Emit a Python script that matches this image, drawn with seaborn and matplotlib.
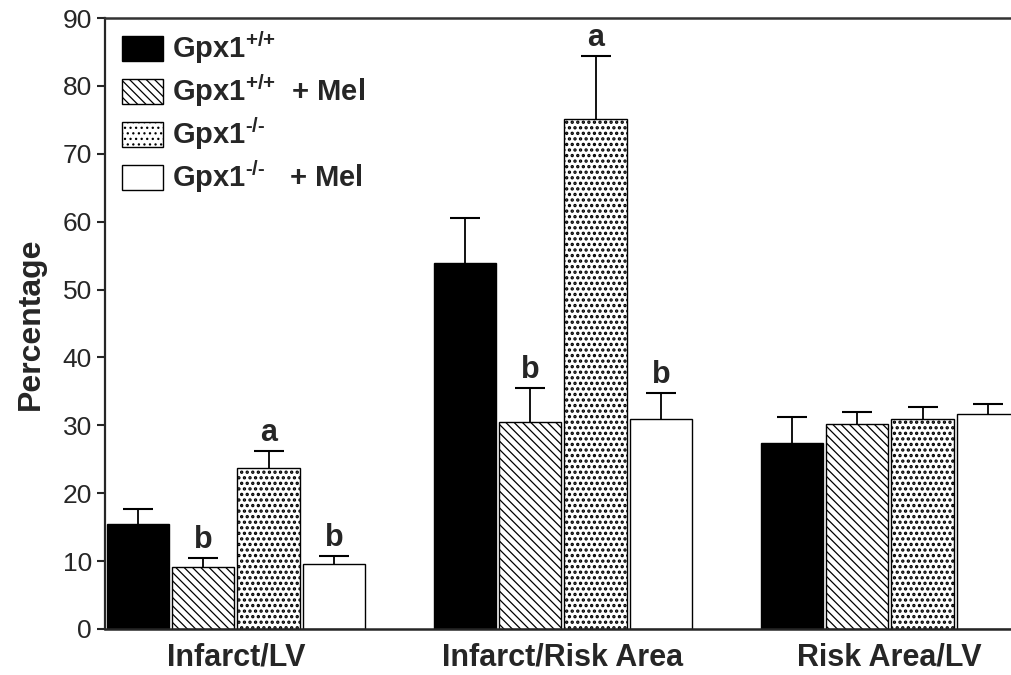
import numpy as np
import pandas as pd
import matplotlib
matplotlib.use("Agg")
import matplotlib.pyplot as plt
import seaborn as sns

# ---------------- data ----------------
categories = ["Infarct/LV", "Infarct/Risk Area", "Risk Area/LV"]
groups = ["Gpx1+/+", "Gpx1+/+ + Mel", "Gpx1-/-", "Gpx1-/- + Mel"]
legend_labels = [r"Gpx1$^{\text{+/+}}$",
                 r"Gpx1$^{\text{+/+}}$  + Mel",
                 r"Gpx1$^{\text{-/-}}$",
                 r"Gpx1$^{\text{-/-}}$   + Mel"]

wt = [15.5, 53.9, 27.4]
wt_mel = [9.1, 30.5, 30.2]
ko = [23.7, 75.1, 30.9]
ko_mel = [9.6, 31.0, 31.7]

wt_err = [2.2, 6.6, 3.8]
wt_mel_err = [1.4, 5.0, 1.8]
ko_err = [2.5, 9.3, 1.8]
ko_mel_err = [1.2, 3.8, 1.4]

wt_letters = ["", "", ""]
wt_mel_letters = ["b", "b", ""]
ko_letters = ["a", "a", ""]
ko_mel_letters = ["b", "b", ""]

means = [wt, wt_mel, ko, ko_mel]
errs = [wt_err, wt_mel_err, ko_err, ko_mel_err]
letters = [wt_letters, wt_mel_letters, ko_letters, ko_mel_letters]

rows = []
for g, vals in zip(groups, means):
    for c, v in zip(categories, vals):
        rows.append({"Category": c, "Group": g, "Value": v})
df = pd.DataFrame(rows)

# ---------------- style ----------------
sns.set_style("ticks")
plt.rcParams["font.family"] = ["Liberation Sans", "DejaVu Sans"]
plt.rcParams["mathtext.fontset"] = "custom"
plt.rcParams["mathtext.rm"] = "Liberation Sans:bold"
plt.rcParams["mathtext.bf"] = "Liberation Sans:bold"
plt.rcParams["hatch.linewidth"] = 0.9

fig = plt.figure(figsize=(10.11, 6.75), dpi=100)
ax = fig.add_axes([105 / 1011, 46 / 675, 1 - 105 / 1011, (629 - 18) / 675])

palette = ["black", "white", "white", "white"]
sns.barplot(data=df, x="Category", y="Value", hue="Group", order=categories,
            hue_order=groups, palette=palette, errorbar=None, width=0.8,
            gap=0.05, edgecolor="black", linewidth=1.0, legend=False, ax=ax)

hatches = [None, "\\\\\\\\", "...", None]
hatch_lw = [0.9, 0.9, 1.6, 0.9]
for cont, h, hl in zip(ax.containers, hatches, hatch_lw):
    for p in cont:
        if h:
            p.set_hatch(h)
            try:
                p.set_hatch_linewidth(hl)
            except AttributeError:
                pass
        p.set_edgecolor("black")

# error bars (upper only) + significance letters
for cont, e, lab in zip(ax.containers, errs, letters):
    xs = [p.get_x() + p.get_width() / 2 for p in cont]
    ys = [p.get_height() for p in cont]
    eb = ax.errorbar(xs, ys, yerr=[np.zeros(len(e)), e], fmt="none",
                     ecolor="black", elinewidth=1.3, capsize=10.5,
                     capthick=1.5, zorder=1)
    caps = eb[1]
    if len(caps) == 2:
        caps[0].set_visible(False)
    for x, y, er, t in zip(xs, ys, e, lab):
        if t:
            ax.text(x, y + er + 0.4, t, ha="center", va="bottom",
                    fontsize=22, fontweight="bold")

# legend
handles = [cont[0] for cont in ax.containers]
leg = ax.legend(handles, legend_labels, loc="upper left",
                bbox_to_anchor=(0.006, 1.0), frameon=False,
                prop={"size": 21, "weight": "bold"},
                handlelength=1.4, handleheight=0.95, handletextpad=0.3,
                labelspacing=0.22, borderaxespad=0.1, borderpad=0.3)

# axes
ax.set_ylim(0, 90)
ax.set_xlim(-0.4, -0.4 + 906 / 327)
ax.set_yticks(np.arange(0, 91, 10))
ax.set_ylabel("Percentage", fontsize=23, fontweight="bold", labelpad=12)
ax.set_xlabel("")
ax.tick_params(axis="y", labelsize=19, length=6, width=1.5, direction="out")
ax.tick_params(axis="x", length=0, pad=10)
for t in ax.get_xticklabels():
    t.set_fontsize(22)
    t.set_fontweight("bold")
ax.spines["right"].set_visible(False)
ax.spines["left"].set_linewidth(1.6)
ax.spines["bottom"].set_linewidth(1.8)
ax.spines["top"].set_linewidth(1.8)
ax.spines["top"].set_color("#333333")

fig.savefig("out.png", dpi=100)
